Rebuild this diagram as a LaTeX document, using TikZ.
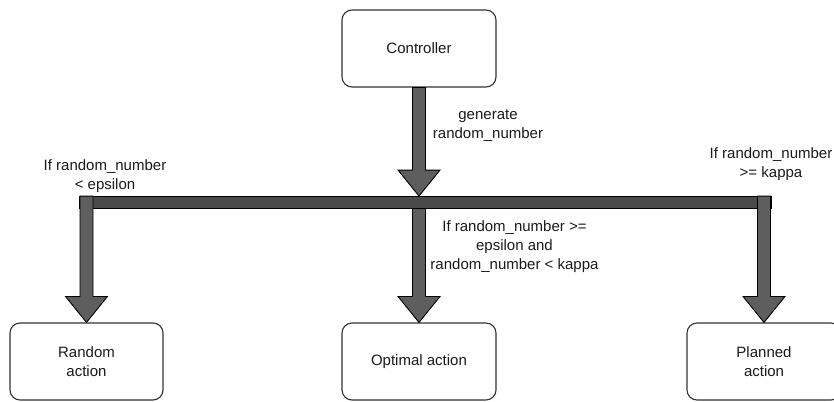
\documentclass[tikz,border=0pt]{standalone}
\usepackage{fontspec}
\setmainfont{Liberation Sans}
\usetikzlibrary{calc}

\definecolor{barfill}{HTML}{4A4A4A}
\definecolor{shaftfill}{HTML}{5E5E5E}
\definecolor{boxline}{HTML}{333333}
\definecolor{ink}{HTML}{1A1A1A}

% Block arrow from a start point (top of shaft) down to a tip point
\newcommand\blockarrow[2]{%
  \filldraw[shaftstyle]
    ($#1+(-6.5,0)$) -- ($#1+(6.5,0)$) -- ($#2+(6.5,-26)$) -- ($#2+(21,-26)$)
    -- #2 -- ($#2+(-21,-26)$) -- ($#2+(-6.5,-26)$) -- cycle;}

\begin{document}
\begin{tikzpicture}[x=1pt,y=-1pt,
  box/.style={draw=boxline, line width=1.1pt, rounded corners=10pt, fill=white,
    minimum width=154pt, minimum height=77pt, inner sep=0pt,
    font=\fontsize{15}{19}\selectfont, text=ink, align=center},
  lbl/.style={font=\fontsize{15}{19}\selectfont, text=ink, align=center, inner sep=0pt},
  barstyle/.style={draw=black, line width=0.9pt, fill=barfill, inner sep=0pt},
  shaftstyle/.style={draw=black, line width=0.9pt, fill=shaftfill, line join=miter}]
  \useasboundingbox (0,0) rectangle (834,401);
  \clip (0,0) rectangle (834,401);

  % boxes
  \node[box] (ctrl) at (419,48.5) {Controller};
  \node[box, minimum width=153pt] (rand) at (86.5,361.5) {Random\\action};
  \node[box] (opt) at (419,361.5) {Optimal action};
  \node[box] (plan) at (764,361.5) {Planned\\action};

  % horizontal distribution bar
  \node[barstyle, minimum width=692pt, minimum height=11.5pt] (bar) at (425,202.25) {};

  % shaft start points on the bar
  \coordinate (cs) at (ctrl.south);
  \coordinate (ct) at (bar.north -| ctrl.south);
  \coordinate (rs) at (bar.north -| rand.north);
  \coordinate (os) at (bar.south -| opt.north);
  \coordinate (ps) at (bar.north -| plan.north);

  % arrows
  \blockarrow{(cs)}{(ct)}
  \blockarrow{(rs)}{(rand.north)}
  \blockarrow{(os)}{(opt.north)}
  \blockarrow{(ps)}{(plan.north)}

  % labels
  \node[lbl] (lgen) at (488,126) {generate\\random\_number};
  \node[lbl] (lrand) at (105,176) {If random\_number\\\textless{} epsilon};
  \node[lbl] (lplan) at (771,164) {If random\_number\\\textgreater= kappa};
  \node[lbl] (lopt) at (514.5,247) {If random\_number \textgreater=\\epsilon and\\random\_number \textless{} kappa};
\end{tikzpicture}
\end{document}
